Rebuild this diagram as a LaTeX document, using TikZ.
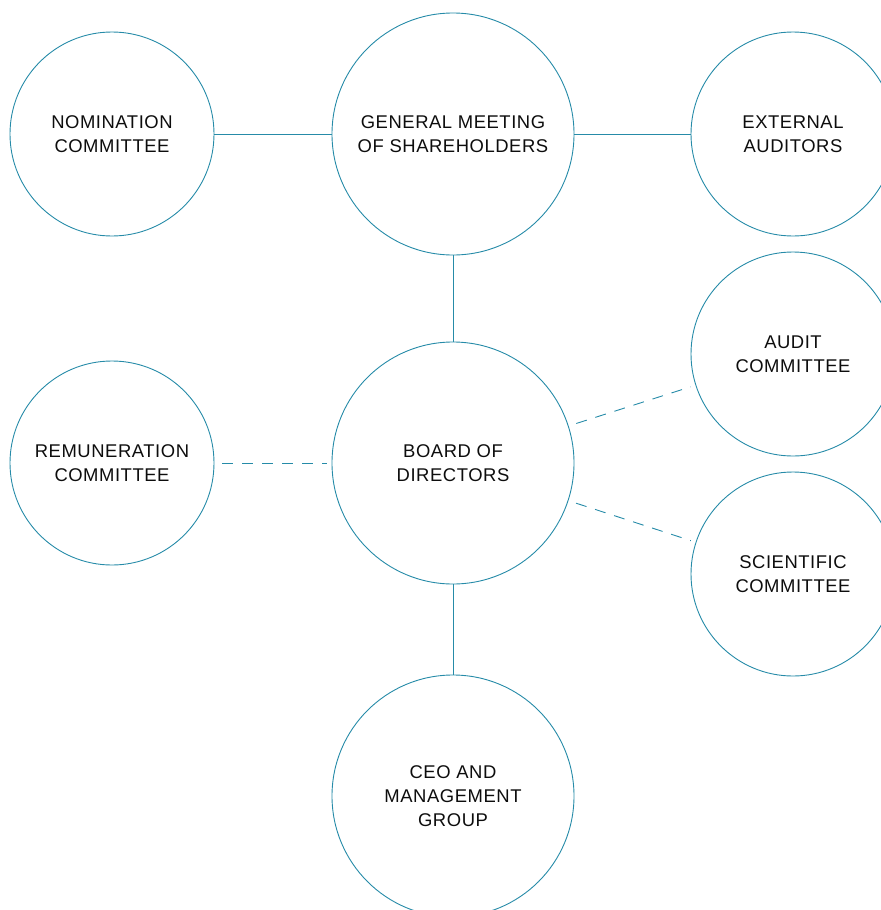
\documentclass[tikz,border=0pt]{standalone}
\usepackage{fontspec}
\setmainfont{Liberation Sans}[LetterSpace=3]
\usepackage{tikz}
\definecolor{orgblue}{RGB}{38,139,168}

\begin{document}
\begin{tikzpicture}[x=1bp,y=-1bp]
\tikzstyle{every node}+=[font=\fontsize{18.5}{24}\selectfont, align=center, text=black!95]
\tikzstyle{bigcirc}=[draw=orgblue, circle, line width=0.9bp, minimum size=242bp, inner sep=0pt]
\tikzstyle{smallcirc}=[draw=orgblue, circle, line width=0.9bp, minimum size=204bp, inner sep=0pt]
\tikzstyle{link}=[draw=orgblue, line width=0.9bp]
\tikzstyle{dashlink}=[link, dash pattern=on 11bp off 9bp, shorten <=8bp, shorten >=5bp]
\useasboundingbox (0,0) rectangle (881,910);
\clip (0,0) rectangle (881,910);
% top row
\node [smallcirc] (nom) at (112,134) {NOMINATION\\COMMITTEE};
\node [bigcirc] (gm) at (453,134) {GENERAL MEETING\\OF SHAREHOLDERS};
\node [smallcirc] (ext) at (793,134) {EXTERNAL\\AUDITORS};
% middle
\node [smallcirc] (rem) at (112,463) {REMUNERATION\\COMMITTEE};
\node [bigcirc] (board) at (453,463) {BOARD OF\\DIRECTORS};
\node [smallcirc] (audit) at (793,354) {AUDIT\\COMMITTEE};
\node [smallcirc] (sci) at (793,574) {SCIENTIFIC\\COMMITTEE};
% bottom
\node [bigcirc] (ceo) at (453,796) {CEO AND\\MANAGEMENT\\GROUP};
% links
\draw [link] (nom) -- (gm);
\draw [link] (gm) -- (ext);
\draw [link] (gm) -- (board);
\draw [link] (board) -- (ceo);
\draw [dashlink] (rem) -- (board);
\draw [dashlink] (board) -- (audit);
\draw [dashlink] (board) -- (sci);
\end{tikzpicture}
\end{document}
